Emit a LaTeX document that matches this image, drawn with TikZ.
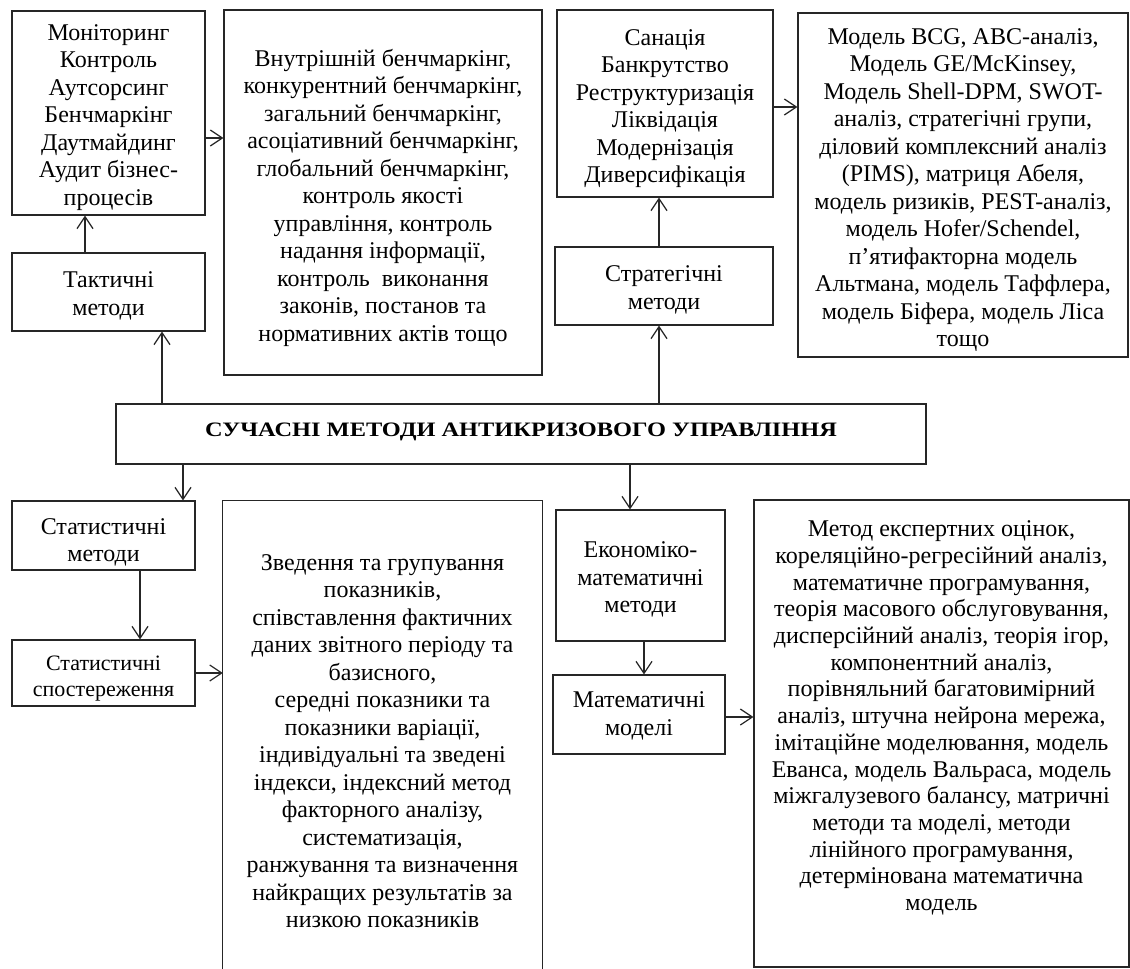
\documentclass[tikz,border=0pt]{standalone}
\usepackage{fontspec}
\usepackage{graphicx}
\setmainfont{Liberation Serif}
\usetikzlibrary{arrows.meta}
\tikzset{
  ln/.style={draw=black!85, line width=1.2pt},
  bx/.style={ln, inner sep=0pt},
  txt/.style={inner sep=0pt, align=center, text=black,
    font=\fontsize{24pt}{27.5pt}\selectfont},
  arr/.style={ln, -{Straight Barb[length=12pt,width=16pt]}},
}
\begin{document}
\begin{tikzpicture}[x=1pt,y=-1pt]
\useasboundingbox (0,0) rectangle (1130,969);
% top row
\node[bx, minimum width=193pt, minimum height=204pt] (mon) at (108.5,113) {};
\node[txt] (montxt) at (108.5,117.5)
 {Моніторинг\\Контроль\\Аутсорсинг\\Бенчмаркінг\\Даутмайдинг\\Аудит бізнес-\\процесів};
\node[bx, minimum width=318pt, minimum height=365pt] (bench) at (383,192.5) {};
\node[txt] (benchtxt) at (383,197.5)
 {Внутрішній бенчмаркінг,\\конкурентний бенчмаркінг,\\загальний бенчмаркінг,\\асоціативний бенчмаркінг,\\глобальний бенчмаркінг,\\контроль якості\\управління, контроль\\надання інформації,\\контроль\ \ виконання\\законів, постанов та\\нормативних актів тощо};
\node[bx, minimum width=216pt, minimum height=187pt] (san) at (665,103.5) {};
\node[txt] (santxt) at (665,108.5)
 {Санація\\Банкрутство\\Реструктуризація\\Ліквідація\\Модернізація\\Диверсифікація};
\node[bx, minimum width=330pt, minimum height=344pt] (bcg) at (963,185) {};
\node[txt] (bcgtxt) at (963,190)
 {Модель BCG, ABC-аналіз,\\Модель GE/McKinsey,\\Модель Shell-DPM, SWOT-\\аналіз, стратегічні групи,\\діловий комплексний аналіз\\(PIMS), матриця Абеля,\\модель ризиків, PEST-аналіз,\\модель Hofer/Schendel,\\п’ятифакторна модель\\Альтмана, модель Таффлера,\\модель Біфера, модель Ліса\\тощо};
\node[bx, minimum width=193pt, minimum height=78pt] (tact) at (108.5,292) {};
\node[txt] (tacttxt) at (108.5,296) {Тактичні\\методи};
\node[bx, minimum width=218pt, minimum height=78pt] (strat) at (664,286) {};
\node[txt] (strattxt) at (664,290) {Стратегічні\\методи};
% central
\node[bx, minimum width=810pt, minimum height=60pt] (main) at (521,434) {};
\node[txt, font=\fontsize{20.5pt}{24pt}\selectfont\bfseries] (maintxt) at (521,432)
 {\scalebox{1.19}[1]{СУЧАСНІ МЕТОДИ АНТИКРИЗОВОГО УПРАВЛІННЯ}};
% bottom row
\node[bx, minimum width=183pt, minimum height=69pt] (statm) at (103.5,535.5) {};
\node[txt] (statmtxt) at (103.5,542.5) {Статистичні\\методи};
\node[bx, minimum width=183pt, minimum height=66pt] (stats) at (103.5,673) {};
\node[txt, font=\fontsize{22pt}{26pt}\selectfont] (statstxt) at (103.5,679)
 {Статистичні\\спостереження};
\node[inner sep=0pt, minimum width=319pt, minimum height=468pt] (stattxt) at (382.5,735) {};
\draw[ln] (stattxt.south west) -- (stattxt.north west) -- (stattxt.north east) -- (stattxt.south east);
\node[txt] (stattext) at (382.5,741)
 {Зведення та групування\\показників,\\співставлення фактичних\\даних звітного періоду та\\базисного,\\середні показники та\\показники варіації,\\індивідуальні та зведені\\індекси, індексний метод\\факторного аналізу,\\систематизація,\\ранжування та визначення\\найкращих результатів за\\низкою показників};
\node[bx, minimum width=169pt, minimum height=131pt] (econ) at (640.5,575.5) {};
\node[txt] (econtxt) at (640.5,579.5) {Економіко-\\математичні\\методи};
\node[bx, minimum width=172pt, minimum height=79pt] (mathm) at (639,714.5) {};
\node[txt] (mathmtxt) at (639,716) {Математичні\\моделі};
\node[bx, minimum width=375pt, minimum height=467pt] (mathbox) at (941.5,733.5) {};
\node[txt, font=\fontsize{24pt}{26.7pt}\selectfont] (mathtxt) at (941.5,718)
 {Метод експертних оцінок,\\кореляційно-регресійний аналіз,\\математичне програмування,\\теорія масового обслуговування,\\дисперсійний аналіз, теорія ігор,\\компонентний аналіз,\\порівняльний багатовимірний\\аналіз, штучна нейрона мережа,\\імітаційне моделювання, модель\\Еванса, модель Вальраса, модель\\міжгалузевого балансу, матричні\\методи та моделі, методи\\лінійного програмування,\\детермінована математична\\модель};
% connector guides
\coordinate (cA) at (85,0);
\coordinate (cB) at (162,0);
\coordinate (cC) at (659,0);
\coordinate (cD) at (183,0);
\coordinate (cE) at (140,0);
\coordinate (cF) at (630,0);
\coordinate (cG) at (644,0);
\coordinate (rA) at (0,138);
\coordinate (rB) at (0,107);
\coordinate (rC) at (0,673);
\coordinate (rD) at (0,717);
% connectors
\draw[arr] (tact.north -| cA) -- (mon.south -| cA);
\draw[arr] (main.north -| cB) -- (tact.south -| cB);
\draw[arr] (main.north -| cC) -- (strat.south -| cC);
\draw[arr] (strat.north -| cC) -- (san.south -| cC);
\draw[arr] (mon.east |- rA) -- (bench.west |- rA);
\draw[arr] (san.east |- rB) -- (bcg.west |- rB);
\draw[arr] (main.south -| cD) -- (statm.north -| cD);
\draw[arr] (statm.south -| cE) -- (stats.north -| cE);
\draw[arr] (stats.east |- rC) -- (stattxt.west |- rC);
\draw[arr] (main.south -| cF) -- (econ.north -| cF);
\draw[arr] (econ.south -| cG) -- (mathm.north -| cG);
\draw[arr] (mathm.east |- rD) -- (mathbox.west |- rD);
\end{tikzpicture}
\end{document}
